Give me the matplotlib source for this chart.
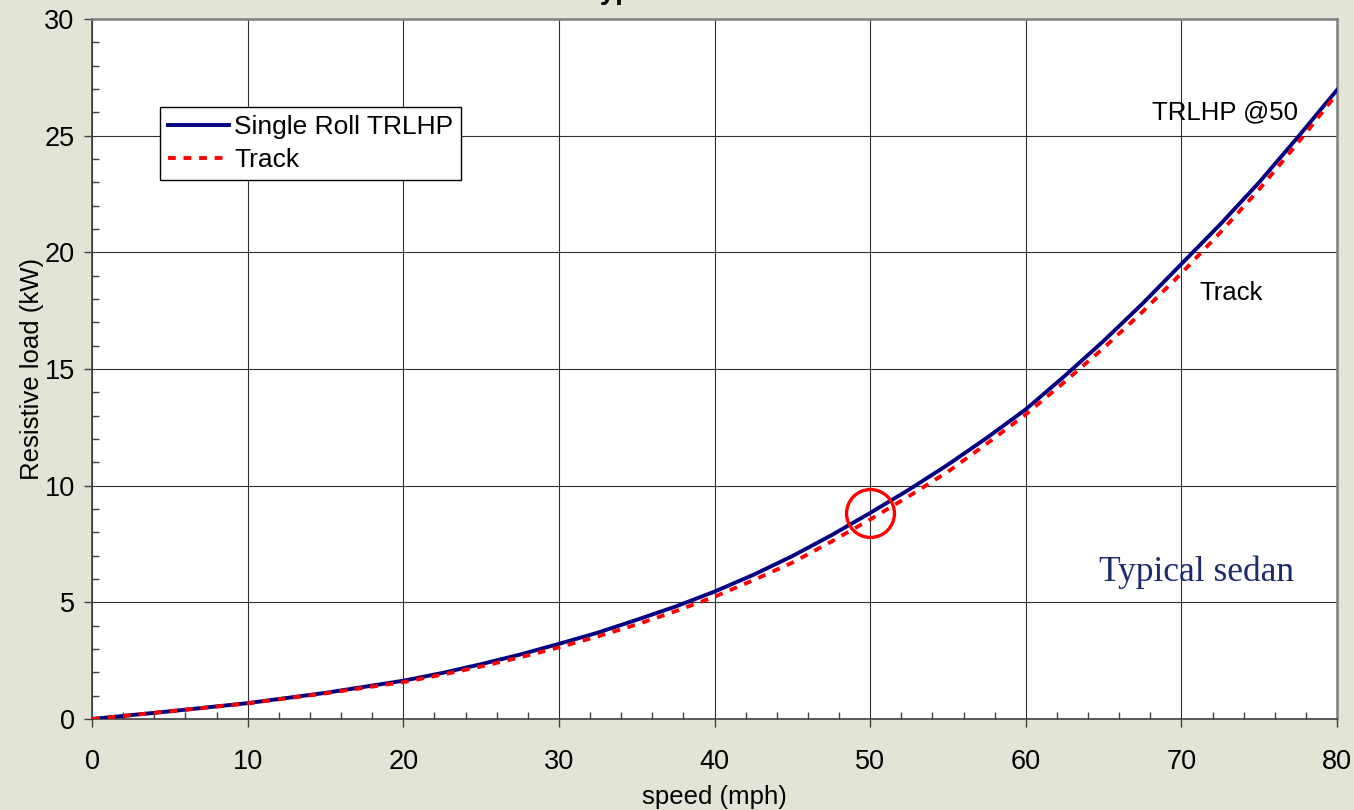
'''Resistive load vs speed: single roll TRLHP against track data (typical sedan)'''

import numpy as np
import matplotlib
matplotlib.use('Agg')
import matplotlib.pyplot as plt
from matplotlib.ticker import MultipleLocator

## Data ##
speed_mph = [0, 5, 10, 15, 20, 22.5, 25, 27.5, 30, 32.5, 35, 37.5, 40, 42.5, 45,
             47.5, 50, 52.5, 55, 57.5, 60, 62.5, 65, 67.5, 70, 72.5, 75, 77.5, 80]
trlhp_kw = [0, 0.33, 0.68, 1.12, 1.64, 1.97, 2.35, 2.76, 3.22, 3.70, 4.25, 4.82,
            5.46, 6.18, 6.98, 7.87, 8.83, 9.83, 10.9, 12.05, 13.27, 14.7, 16.2,
            17.8, 19.5, 21.2, 23.0, 24.95, 26.96]
track_kw = [0, 0.33, 0.67, 1.10, 1.58, 1.90, 2.25, 2.64, 3.07, 3.54, 4.05, 4.62,
            5.24, 5.95, 6.7, 7.6, 8.55, 9.55, 10.6, 11.8, 13.05, 14.45, 15.9,
            17.45, 19.1, 20.85, 22.7, 24.7, 26.8]

# point highlighted by the red circle
circle_speed = 50
circle_load = 8.83

x_ticks = [0, 10, 20, 30, 40, 50, 60, 70, 80]
y_ticks = [0, 5, 10, 15, 20, 25, 30]

plt.rcParams['font.family'] = ['Liberation Sans', 'DejaVu Sans']

bg = '#e4e4d6'
fig = plt.figure(figsize=(13.54, 8.10), dpi=100, facecolor=bg)
ax = fig.add_axes([92/1354, 1 - 719/810, (1337 - 92)/1354, (719 - 19)/810])
ax.set_facecolor('white')

ax.plot(speed_mph, trlhp_kw, color='#000080', lw=2.8, label='Single Roll TRLHP', zorder=3)
ax.plot(speed_mph, track_kw, color='#ff0000', lw=2.8, ls=(0, (2.0, 2.0)),
        label='Track', zorder=4)
ax.plot(circle_speed, circle_load, 'o', ms=34.5, mfc='none', mec='#ff0000', mew=2.4, zorder=5)

ax.set_xlim(0, 80)
ax.set_ylim(0, 30)
ax.set_xticks(x_ticks)
ax.set_yticks(y_ticks)
ax.xaxis.set_minor_locator(MultipleLocator(2))
ax.yaxis.set_minor_locator(MultipleLocator(1))
ax.tick_params(which='major', direction='out', length=5.5, width=1, labelsize=19.5,
               color='#404040')
ax.tick_params(axis='x', which='major', pad=16)
ax.tick_params(axis='y', which='major', pad=7)
ax.tick_params(which='minor', direction='in', length=5, width=1, color='#404040')
ax.grid(which='major', color='#303030', lw=0.8)
ax.set_axisbelow(True)

for side in ['left', 'bottom']:
    ax.spines[side].set_color('#404040')
    ax.spines[side].set_linewidth(1.2)
for side in ['top', 'right']:
    ax.spines[side].set_color('#808080')
    ax.spines[side].set_linewidth(1.8)

ax.set_xlabel('speed (mph)', fontsize=18.5, labelpad=7)
ax.set_ylabel('Resistive load (kW)', fontsize=18.5, labelpad=0)

# annotations
ax.text(72.8, 26.0, 'TRLHP @50', fontsize=18.5, ha='center', va='center')
ax.text(73.2, 18.26, 'Track', fontsize=18.5, ha='center', va='center')
ax.text(71.0, 6.3, 'Typical sedan', fontsize=25.5, ha='center', va='center',
        color='#1c2a6e', family=['Liberation Serif', 'DejaVu Serif'])

leg = ax.legend(loc='upper left', bbox_to_anchor=(68/1245, 1 - 88/700),
                borderaxespad=0, fancybox=False, framealpha=1, edgecolor='black',
                fontsize=19, handlelength=2.3, handletextpad=0.2,
                labelspacing=0.35, borderpad=0.3)
leg.get_frame().set_linewidth(1.0)

# title sits mostly above the canvas, only the descenders show
fig.text(0.5, 1 + 1/810, 'Typical Sedan', ha='center', va='baseline',
         fontsize=20, weight='bold')

plt.savefig('out.png', dpi=100, facecolor=bg)
